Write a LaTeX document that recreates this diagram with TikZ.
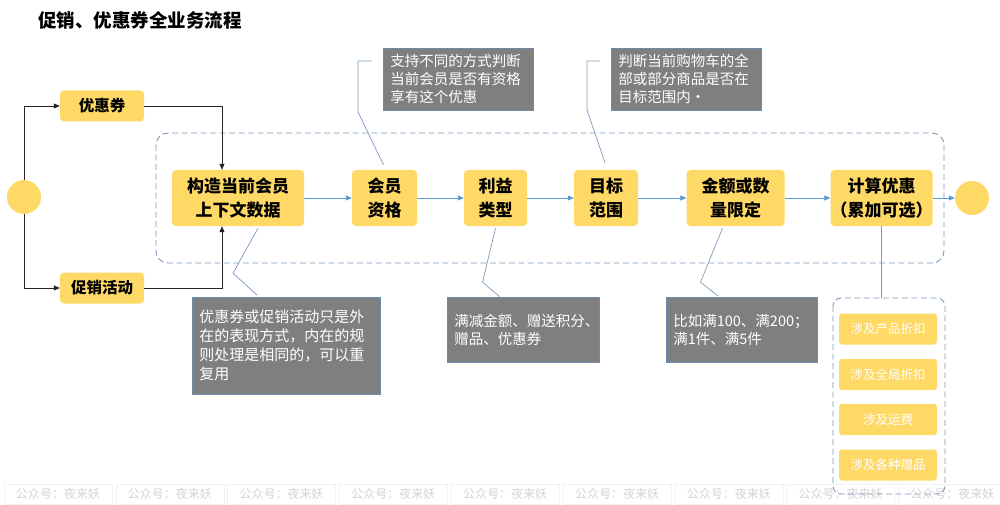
\documentclass[tikz,border=0pt]{standalone}
\usepackage{fontspec}
\setmainfont{Noto Sans CJK SC}
\usetikzlibrary{arrows.meta}
\definecolor{ylw}{HTML}{FFD966}
\definecolor{notegray}{HTML}{7F7F7F}
\definecolor{noteedge}{HTML}{6A8CAF}
\definecolor{flowblue}{HTML}{5B9BD5}
\definecolor{dashc}{HTML}{7E9BBD}
\definecolor{calloutc}{HTML}{7A9CC0}
\definecolor{blk}{HTML}{262626}
\definecolor{wmtext}{HTML}{D4D4D4}
\definecolor{wmedge}{HTML}{F2F2F2}
\begin{document}
\begin{tikzpicture}[x=1pt,y=-1pt,
  mainbox/.style={fill=ylw, rounded corners=4pt, align=center, inner sep=0pt,
    minimum height=56pt, font=\fontsize{17}{23.5}\selectfont\bfseries},
  sidebox/.style={fill=ylw, rounded corners=4pt, align=center, inner sep=0pt,
    minimum width=84pt, minimum height=31pt, font=\fontsize{15.5}{18}\selectfont\bfseries},
  subbox/.style={fill=ylw, rounded corners=3pt, align=center, inner sep=0pt, text=white,
    minimum width=98pt, minimum height=31pt, font=\fontsize{12.5}{15}\selectfont},
  endpt/.style={circle, fill=ylw, minimum size=34pt, inner sep=0pt},
  note/.style={fill=notegray, draw=noteedge, line width=0.6pt, text=white, align=left,
    anchor=north west, inner xsep=7pt, inner ysep=0pt, font=\fontsize{14.5}{18}\selectfont},
  flow/.style={draw=flowblue, line width=0.8pt, -{Triangle[length=6pt,width=5pt]}},
  blackflow/.style={draw=blk, line width=0.8pt, -{Triangle[length=6pt,width=5pt]}},
  callout/.style={draw=calloutc, line width=0.7pt},
  group/.style={draw=dashc, line width=0.9pt, dash pattern=on 6pt off 3.5pt, rounded corners=12pt},
  wmark/.style={draw=wmedge, line width=0.5pt, text=wmtext, minimum width=108pt, minimum height=20pt,
    inner sep=0pt, font=\fontsize{12}{14}\selectfont},
]
\useasboundingbox (0,0) rectangle (1000,505);
\fill[white] (0,0) rectangle (1000,505);

% watermarks
\foreach \i in {0,...,8} {
  \node[wmark] (wm\i) at (58+111.8*\i,494) {公众号：夜来妖};
}

% title
\node[anchor=west, inner sep=0pt, font=\fontsize{18.5}{22}\selectfont\bfseries] (title) at (38,20) {促销、优惠券全业务流程};

% dashed groups
\draw[group] (156,133) rectangle (944,263);
\draw[group, rounded corners=8pt] (833,298) rectangle (945,494);

% start / end
\node[endpt] (s) at (24,197) {};
\node[endpt] (e) at (972,198) {};

% side boxes
\node[sidebox] (yhq) at (102,106) {优惠券};
\node[sidebox] (cxhd) at (102,288) {促销活动};

% main boxes
\node[mainbox, minimum width=132pt] (build) at (238,198) {构造当前会员\\上下文数据};
\node[mainbox, minimum width=65pt] (member) at (384.5,198) {会员\\资格};
\node[mainbox, minimum width=63pt] (benefit) at (495.5,198) {利益\\类型};
\node[mainbox, minimum width=64pt] (target) at (606,198) {目标\\范围};
\node[mainbox, minimum width=98pt] (amount) at (735.5,198) {金额或数\\量限定};
\node[mainbox, minimum width=98pt] (calc) at (881.5,198) {计算优惠\\（累加可选）};

% sub boxes
\node[subbox] (p1) at (888,329) {涉及产品折扣};
\node[subbox] (p2) at (888,374.5) {涉及全局折扣};
\node[subbox] (p3) at (888,419.5) {涉及运费};
\node[subbox] (p4) at (888,465) {涉及各种赠品};

% notes
\node[note, minimum width=150pt, minimum height=62pt, text width=136pt] (n1) at (383,48)
  {支持不同的方式判断\\当前会员是否有资格\\享有这个优惠};
\node[note, minimum width=150pt, minimum height=62pt, text width=136pt] (n2) at (611,48)
  {判断当前购物车的全\\部或部分商品是否在\\目标范围内·};
\node[note, minimum width=188pt, minimum height=97pt, text width=174pt,
  font=\fontsize{15}{19}\selectfont] (n3) at (192,297)
  {优惠券或促销活动只是外\\在的表现方式，内在的规\\则处理是相同的，可以重\\复用};
\node[note, minimum width=152pt, minimum height=65pt, text width=138pt] (n4) at (447,297)
  {满减金额、赠送积分、\\赠品、优惠券};
\node[note, minimum width=151pt, minimum height=65pt, text width=137pt] (n5) at (666,297)
  {比如满100、满200；\\满1件、满5件};

% black connectors
\draw[blackflow] (s.north) |- (yhq.west);
\draw[blackflow] (s.south) |- (cxhd.west);
\draw[blackflow] (yhq.east) -| ([xshift=-16pt]build.north);
\draw[blackflow] (cxhd.east) -| ([xshift=-16pt]build.south);

% blue flow
\draw[flow] (build) -- (member);
\draw[flow] (member) -- (benefit);
\draw[flow] (benefit) -- (target);
\draw[flow] (target) -- (amount);
\draw[flow] (amount) -- (calc);
\draw[flow] (calc) -- (e);
\draw[callout] (calc.south) -- (calc.south |- 0,298);

% callouts
\draw[callout] ([xshift=-11pt,yshift=-13pt]n1.north west) -- ++(-14,0) -- ++(0,51) -- ([xshift=-1pt,yshift=5pt]member.north);
\draw[callout] ([xshift=-11pt,yshift=-13pt]n2.north west) -- ++(-13,0) -- ++(0,49) -- ([xshift=-1pt,yshift=7pt]target.north);
\draw[callout] ([xshift=20pt,yshift=-2pt]build.south) -- ++(-25,45) -- ([xshift=65pt,yshift=2pt]n3.north west);
\draw[callout] ([yshift=-2pt]benefit.south) -- ++(-13,54) -- ([xshift=53pt,yshift=0pt]n4.north west);
\draw[callout] ([xshift=-13pt,yshift=-2pt]amount.south) -- ++(-22,54) -- ([xshift=52pt,yshift=1pt]n5.north west);
\end{tikzpicture}
\end{document}
